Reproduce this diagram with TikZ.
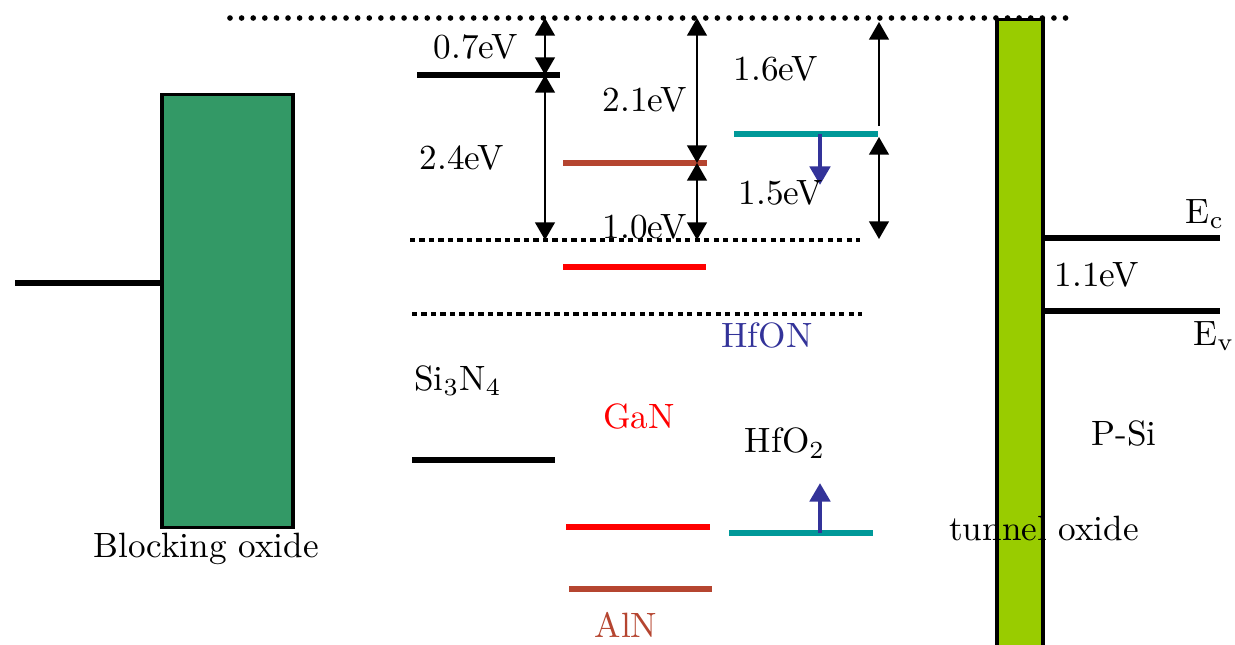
\documentclass[tikz,border=0pt]{standalone}
\usetikzlibrary{arrows.meta}
\definecolor{boxgreen}{RGB}{51,153,102}
\definecolor{tunnelgreen}{RGB}{153,204,0}
\definecolor{tealline}{RGB}{0,153,153}
\definecolor{arrowblue}{RGB}{51,51,153}
\definecolor{alnbrown}{RGB}{181,69,48}
\definecolor{ganred}{RGB}{255,0,0}
\begin{document}
\begin{tikzpicture}[x=0.01cm,y=-0.01cm,
  lbl/.style={inner sep=0pt,font=\fontsize{10}{12}\selectfont},
  level/.style={line width=1.45pt},
  roundline/.style={line width=1.6pt,line cap=round,dash pattern=on 0pt off 3.3pt},
  squareline/.style={line width=1.35pt,dash pattern=on 1.45pt off 1.25pt},
  gaparrow/.style={line width=0.65pt,{Triangle[length=1.75mm,width=1.95mm]}-{Triangle[length=1.75mm,width=1.95mm]}},
  uparrow/.style={line width=0.65pt,-{Triangle[length=1.75mm,width=1.95mm]}},
  bluearrow/.style={arrowblue,line width=1.4pt,-{Triangle[length=1.85mm,width=2mm]}},
  oxide/.style={draw=black,line width=0.9pt,inner sep=0pt}]
\useasboundingbox (0,0) rectangle (1235,645);

% oxide boxes
\node[oxide,fill=boxgreen,minimum width=1.31cm,minimum height=4.32cm] (blk) at (227.5,311) {};
\node[oxide,fill=tunnelgreen,minimum width=0.46cm,minimum height=6.35cm] (tun) at (1020,337) {};

% dotted reference lines
\coordinate (topL) at (230,18);
\coordinate (topR) at (1075,18);
\draw[roundline] (topL) -- (topR);
\coordinate (d1L) at (410,240);
\coordinate (d1R) at (860,240);
\draw[squareline] (d1L) -- (d1R);
\coordinate (d2L) at (412,314);
\coordinate (d2R) at (862,314);
\draw[squareline] (d2L) -- (d2R);

% gate level
\coordinate (gateL) at (15,283);
\draw[level] (gateL) -- (blk.west |- gateL);

% Si3N4
\coordinate (sinCL) at (417,75);
\coordinate (sinCR) at (560,75);
\draw[level,black] (sinCL) -- (sinCR);
\coordinate (sinVL) at (412,460);
\coordinate (sinVR) at (555,460);
\draw[level,black] (sinVL) -- (sinVR);

% AlN
\coordinate (alnCL) at (563,163);
\coordinate (alnCR) at (707,163);
\draw[level,alnbrown] (alnCL) -- (alnCR);
\coordinate (alnVL) at (569,589);
\coordinate (alnVR) at (712,589);
\draw[level,alnbrown] (alnVL) -- (alnVR);

% GaN
\coordinate (ganCL) at (563,267);
\coordinate (ganCR) at (706,267);
\draw[level,ganred] (ganCL) -- (ganCR);
\coordinate (ganVL) at (566,527);
\coordinate (ganVR) at (710,527);
\draw[level,ganred] (ganVL) -- (ganVR);

% HfO2 / HfON
\coordinate (hfCL) at (734,134);
\coordinate (hfCR) at (878,134);
\draw[level,tealline] (hfCL) -- (hfCR);
\coordinate (hfVL) at (729,533);
\coordinate (hfVR) at (873,533);
\draw[level,tealline] (hfVL) -- (hfVR);

% Si levels
\coordinate (ecR) at (1220,238);
\coordinate (evR) at (1220,311);
\draw[line width=1.7pt] (tun.east |- ecR) -- (ecR);
\draw[line width=1.7pt] (tun.east |- evR) -- (evR);

% gap arrows
\coordinate (a1t) at (545,18);
\coordinate (a1m) at (545,75);
\coordinate (a1b) at (545,240);
\draw[gaparrow] (a1t) -- (a1m);
\draw[gaparrow] (a1m) -- (a1b);
\coordinate (a2t) at (697,18);
\coordinate (a2m) at (697,163);
\coordinate (a2b) at (697,240);
\draw[gaparrow] (a2t) -- (a2m);
\draw[gaparrow] (a2m) -- (a2b);
\coordinate (a3t) at (879,22);
\coordinate (a3s) at (879,126);
\coordinate (a3m) at (879,137);
\coordinate (a3b) at (879,239);
\draw[uparrow] (a3s) -- (a3t);
\draw[gaparrow] (a3m) -- (a3b);

% blue arrows
\coordinate (b1s) at (820,134);
\coordinate (b1e) at (820,185);
\draw[bluearrow] (b1s) -- (b1e);
\coordinate (b2s) at (820,533);
\coordinate (b2e) at (820,483);
\draw[bluearrow] (b2s) -- (b2e);

% labels
\node[lbl] (l07) at (476,47) {0.7eV};
\node[lbl] (l24) at (462,158) {2.4eV};
\node[lbl] (l21) at (645,100) {2.1eV};
\node[lbl] (l16) at (776,69) {1.6eV};
\node[lbl] (l15) at (781,193) {1.5eV};
\node[lbl] (l10) at (645,227) {1.0eV};
\node[lbl] (l11) at (1097,275) {1.1eV};
\node[lbl] (lec) at (1205,214) {E\textsubscript{c}};
\node[lbl] (lev) at (1214,336) {E\textsubscript{v}};
\node[lbl,text=arrowblue] (lhfon) at (767,335) {HfON};
\node[lbl] (lsin) at (458,381) {Si\textsubscript{3}N\textsubscript{4}};
\node[lbl,text=ganred] (lgan) at (639,416) {GaN};
\node[lbl] (lhfo) at (785,443) {HfO\textsubscript{2}};
\node[lbl,text=alnbrown] (laln) at (626,625) {AlN};
\node[lbl] (lpsi) at (1124,433) {P-Si};
\node[lbl] (ltun) at (1044,528) {tunnel oxide};
\node[lbl] (lblk) at (206,549) {Blocking oxide};
\end{tikzpicture}
\end{document}
